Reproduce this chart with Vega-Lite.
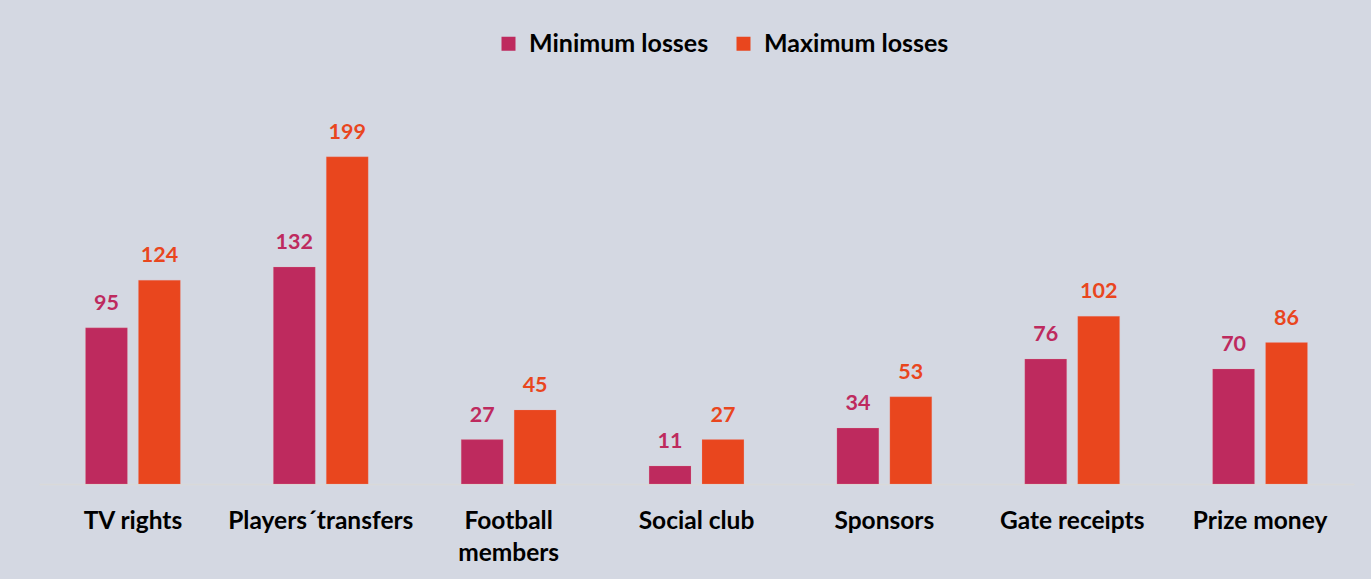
{
  "$schema": "https://vega.github.io/schema/vega-lite/v6.json",
  "autosize": "none",
  "width": 1315,
  "height": 411,
  "padding": {"left": 39, "top": 73, "right": 17, "bottom": 95},
  "background": "#D4D8E2",
  "config": {"view": {"stroke": null}, "font": "Lato"},
  "data": {"values": [
    {"category": "TV rights", "series": "Minimum losses", "value": 95},
    {"category": "TV rights", "series": "Maximum losses", "value": 124},
    {"category": "Players´transfers", "series": "Minimum losses", "value": 132},
    {"category": "Players´transfers", "series": "Maximum losses", "value": 199},
    {"category": "Football members", "series": "Minimum losses", "value": 27},
    {"category": "Football members", "series": "Maximum losses", "value": 45},
    {"category": "Social club", "series": "Minimum losses", "value": 11},
    {"category": "Social club", "series": "Maximum losses", "value": 27},
    {"category": "Sponsors", "series": "Minimum losses", "value": 34},
    {"category": "Sponsors", "series": "Maximum losses", "value": 53},
    {"category": "Gate receipts", "series": "Minimum losses", "value": 76},
    {"category": "Gate receipts", "series": "Maximum losses", "value": 102},
    {"category": "Prize money", "series": "Minimum losses", "value": 70},
    {"category": "Prize money", "series": "Maximum losses", "value": 86}
  ]},
  "encoding": {
    "x": {
      "field": "category", "type": "nominal",
      "sort": ["TV rights", "Players´transfers", "Football members", "Social club", "Sponsors", "Gate receipts", "Prize money"],
      "scale": {"paddingInner": 0.495, "paddingOuter": 0.2475},
      "axis": {
        "title": null, "labelAngle": 0, "ticks": false,
        "domainColor": "#D9D9D9", "domainWidth": 1.5,
        "labelFont": "Lato", "labelFontSize": 24.5, "labelFontWeight": "bold", "labelColor": "#000000",
        "labelPadding": 44, "labelLineHeight": 32, "labelBaseline": "alphabetic", "labelLimit": 400,
        "labelExpr": "datum.label == 'Football members' ? ['Football', 'members'] : datum.label"
      }
    },
    "xOffset": {
      "field": "series", "type": "nominal",
      "sort": ["Minimum losses", "Maximum losses"],
      "scale": {"paddingInner": 0.208, "paddingOuter": 0}
    },
    "y": {
      "field": "value", "type": "quantitative",
      "scale": {"domain": [0, 250], "nice": false},
      "axis": null
    },
    "color": {
      "field": "series", "type": "nominal",
      "sort": ["Minimum losses", "Maximum losses"],
      "scale": {"domain": ["Minimum losses", "Maximum losses"], "range": ["#BE2A5E", "#E9461E"]},
      "legend": {
        "title": null, "orient": "none", "direction": "horizontal",
        "legendX": 457, "legendY": -42,
        "symbolType": "square", "symbolSize": 196, "symbolStrokeWidth": 0,
        "labelFont": "Lato", "labelFontSize": 25, "labelFontWeight": "bold", "labelColor": "#000000",
        "labelOffset": 8, "columnPadding": 22, "labelLimit": 400
      }
    }
  },
  "layer": [
    {"mark": {"type": "bar", "stroke": "#F0A0A0", "strokeWidth": 0.5, "strokeOpacity": 0.4}},
    {"mark": {"type": "text", "font": "Lato", "fontSize": 21.5, "fontWeight": "bold", "baseline": "alphabetic", "dy": -18},
     "encoding": {"text": {"field": "value", "type": "quantitative"}}}
  ]
}
